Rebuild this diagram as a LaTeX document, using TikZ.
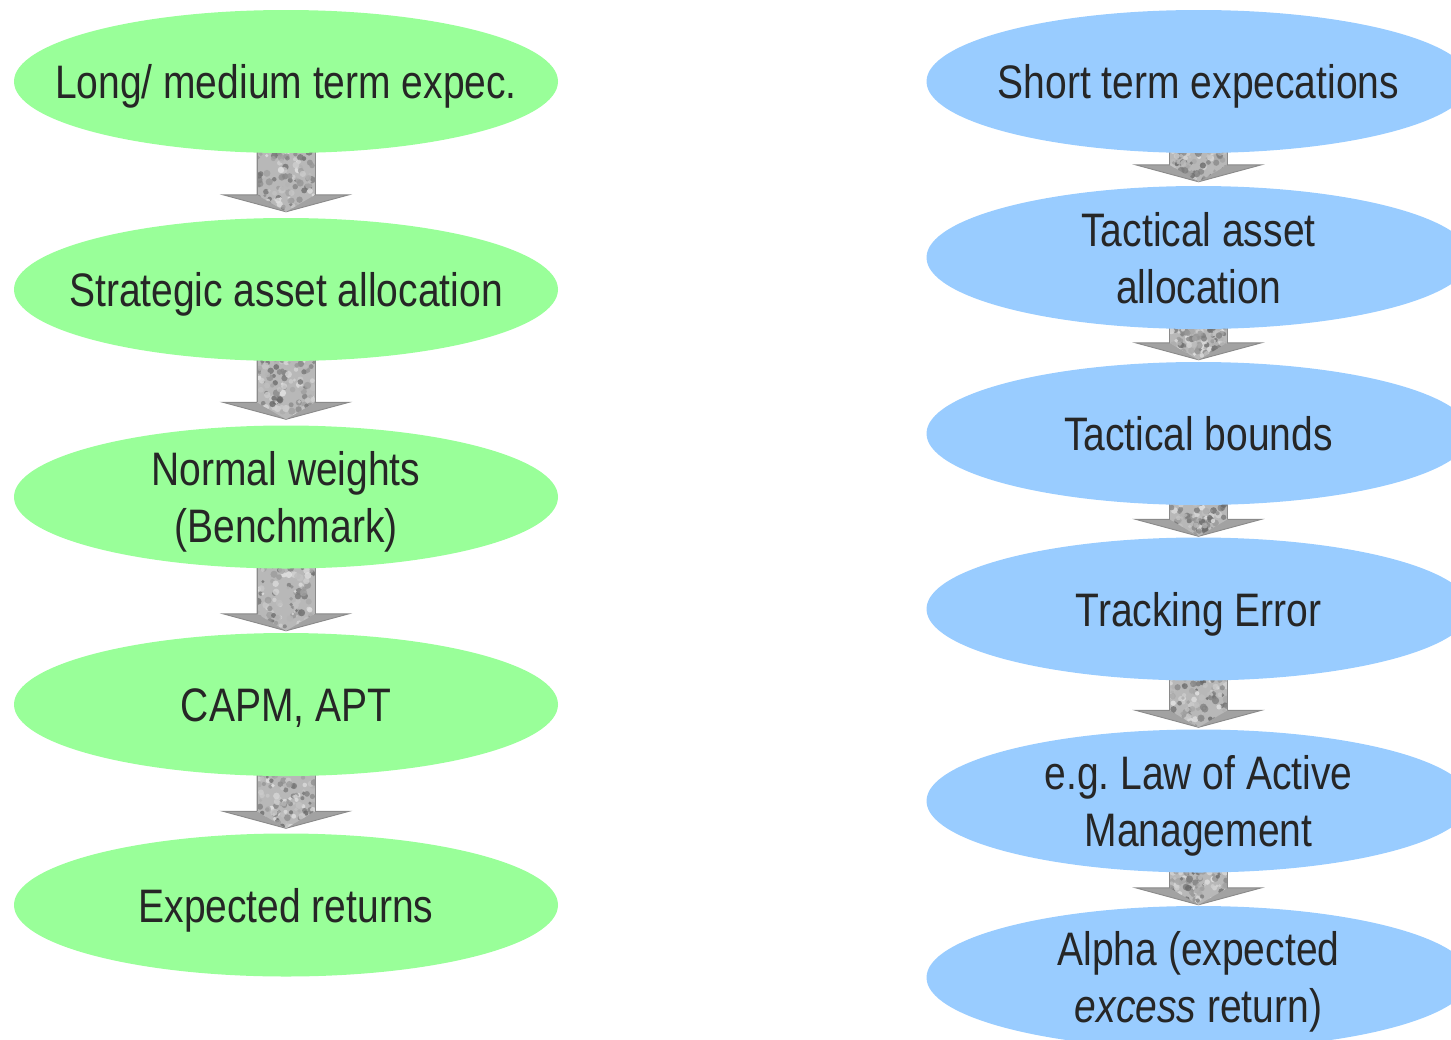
\documentclass[tikz,border=0pt]{standalone}
\usepackage{fontspec}
\setmainfont{Liberation Sans}[FakeStretch=0.83]
\usetikzlibrary{shapes.geometric,calc,backgrounds}
\definecolor{lgreen}{HTML}{99FF99}
\definecolor{lblue}{HTML}{99CCFF}
\definecolor{txtc}{HTML}{262626}
\definecolor{agray}{HTML}{B8B8B8}
\definecolor{ahead}{HTML}{A2A2A2}
\definecolor{aedge}{HTML}{8A8A8A}
\tikzset{
  ovalg/.style={ellipse, fill=lgreen, draw=none, minimum width=544pt, minimum height=143pt, inner sep=0pt},
  ovalb/.style={ellipse, fill=lblue, draw=none, minimum width=544pt, minimum height=143pt, inner sep=0pt},
  lbl/.style={anchor=base, inner sep=0pt, text=txtc, font=\fontsize{47}{57}\selectfont\frenchspacing},
  arrbody/.style={fill=ahead, draw=aedge, line width=0.9pt, line join=miter},
}
% #1 gap above target top, #2 source node, #3 target node
\newcommand{\blockarrow}[3]{%
  \coordinate (ba-tip) at ($(#3.north)+(0,-#1)$);
  \coordinate (ba-base) at ($(ba-tip)+(0,-17)$);
  \coordinate (ba-top) at ($(#2.south)+(0,-10)$);
  \begin{scope}[on background layer]
    \path[arrbody] ($(ba-top)+(-29,0)$) -- ($(ba-base)+(-29,0)$) -- ($(ba-base)+(-63,0)$)
      -- (ba-tip) -- ($(ba-base)+(63,0)$) -- ($(ba-base)+(29,0)$) -- ($(ba-top)+(29,0)$) -- cycle;
    \begin{scope}
      \clip ($(ba-top)+(-29,0)$) -- ($(ba-base)+(-29,0)$) -- (ba-tip) -- ($(ba-base)+(29,0)$) -- ($(ba-top)+(29,0)$) -- cycle;
      \fill[agray] ($(ba-top)+(-29,0)$) rectangle ($(ba-tip)+(29,0)$);
      \foreach \k in {1,...,120}{%
        \pgfmathsetmacro{\gx}{rand*28}%
        \pgfmathsetmacro{\gy}{rnd}%
        \pgfmathsetmacro{\sh}{int(10+rnd*50)}%
        \pgfmathsetmacro{\rr}{1.5+rnd*2.2}%
        \fill[black!\sh, opacity=0.8] ($(ba-top)!\gy!(ba-tip)+(\gx,0)$) circle (\rr);
      }
    \end{scope}
    \draw[aedge, line width=0.9pt] ($(ba-top)+(-29,0)$) -- ($(ba-base)+(-29,0)$);
    \draw[aedge, line width=0.9pt] ($(ba-top)+(29,0)$) -- ($(ba-base)+(29,0)$);
  \end{scope}
}
\begin{document}
\pgfmathsetseed{4711}
\begin{tikzpicture}[x=1pt,y=-1pt]
\useasboundingbox (0,0) rectangle (1451,1039);
\clip (0,0) rectangle (1451,1039);

% left column
\node[ovalg] (L1) at (286,81.5) {};
\node[ovalg] (L2) at (286,289.5) {};
\node[ovalg] (L3) at (286,497) {};
\node[ovalg] (L4) at (286,704.5) {};
\node[ovalg] (L5) at (286,905) {};
\node[lbl] (L1t) at ($(L1)+(0,17)$) {Long/ medium term expec.};
\node[lbl] (L2t) at ($(L2)+(0,17)$) {Strategic asset allocation};
\node[lbl] (L3t) at ($(L3)+(0,-11.5)$) {\begin{tabular}[t]{@{}c@{}}Normal weights\\(Benchmark)\end{tabular}};
\node[lbl] (L4t) at ($(L4)+(0,17)$) {CAPM, APT};
\node[lbl] (L5t) at ($(L5)+(0,17)$) {Expected returns};

% right column
\node[ovalb] (R1) at (1198.5,81.5) {};
\node[ovalb] (R2) at (1198.5,257.5) {};
\node[ovalb] (R3) at (1198.5,433.5) {};
\node[ovalb] (R4) at (1198.5,609) {};
\node[ovalb] (R5) at (1198.5,801) {};
\node[ovalb] (R6) at (1198.5,977.5) {};
\node[lbl] (R1t) at ($(R1)+(0,17)$) {Short term expecations};
\node[lbl] (R2t) at ($(R2)+(0,-11.5)$) {\begin{tabular}[t]{@{}c@{}}Tactical asset\\allocation\end{tabular}};
\node[lbl] (R3t) at ($(R3)+(0,17)$) {Tactical bounds};
\node[lbl] (R4t) at ($(R4)+(0,17)$) {Tracking Error};
\node[lbl] (R5t) at ($(R5)+(0,-12)$) {\begin{tabular}[t]{@{}c@{}}e.g. Law of Active\\Management\end{tabular}};
\node[lbl] (R6t) at ($(R6)+(0,-12)$) {\begin{tabular}[t]{@{}c@{}}Alpha (expected\\\textit{excess} return)\end{tabular}};

% arrows
\blockarrow{6}{L1}{L2}
\blockarrow{6}{L2}{L3}
\blockarrow{2}{L3}{L4}
\blockarrow{5}{L4}{L5}
\blockarrow{4}{R1}{R2}
\blockarrow{2}{R2}{R3}
\blockarrow{1}{R3}{R4}
\blockarrow{2}{R4}{R5}
\blockarrow{1}{R5}{R6}
\end{tikzpicture}
\end{document}
